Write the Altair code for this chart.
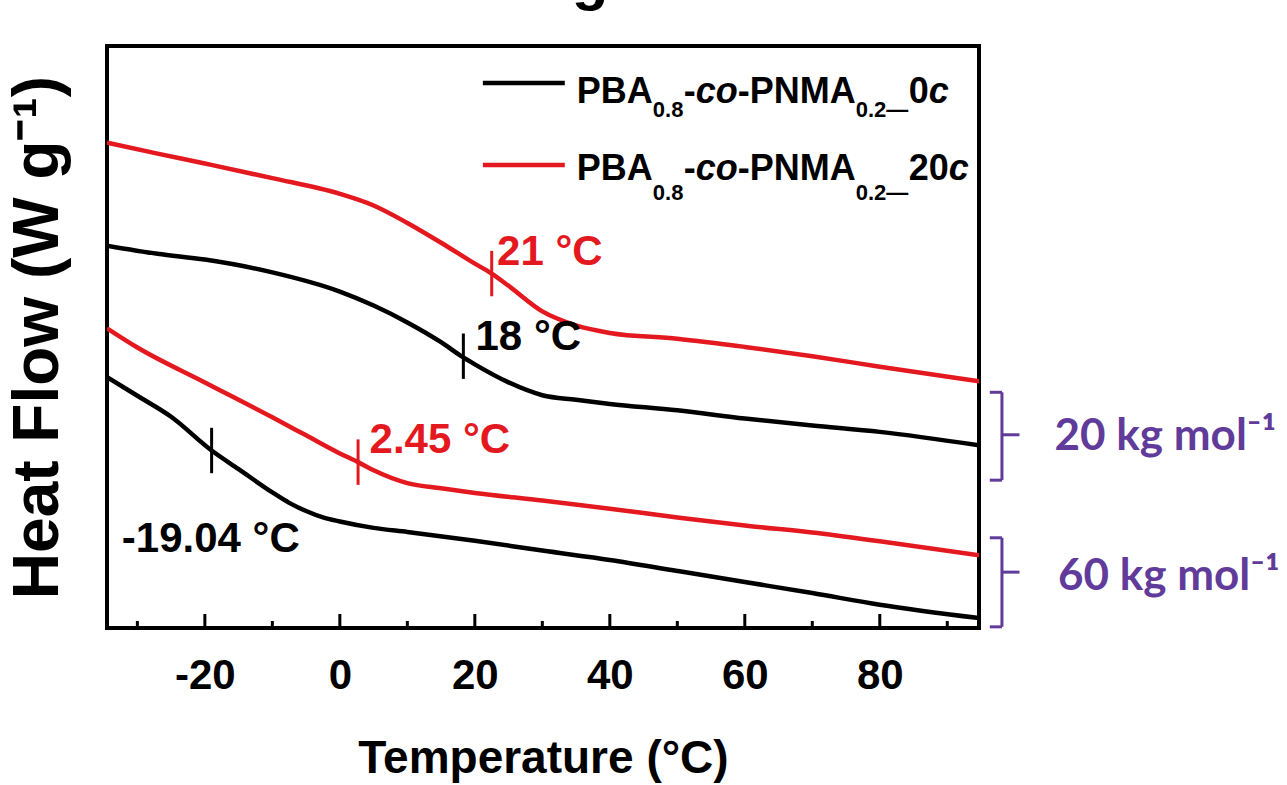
import altair as alt
import pandas as pd

FONT = "Liberation Sans"
RED = "#e3191f"
PURPLE = "#613b9a"

# ---- curves (Temperature in °C, heat flow in arbitrary offset units) ----
T_blk20 = [-34.5, -27, -20, -10, 0, 5, 10, 15, 18, 20, 25, 30, 35, 40, 50, 60, 70, 80, 94.7]
V_blk20 = [6.57, 6.43, 6.33, 6.11, 5.78, 5.54, 5.25, 4.91, 4.67, 4.53, 4.22, 4.00, 3.92, 3.85, 3.74, 3.60, 3.48, 3.37, 3.14]

T_red20 = [-34.5, -27, -20, -10, 0, 5, 10, 15, 20, 22.5, 25, 30, 35, 40, 50, 60, 70, 80, 94.7]
V_red20 = [8.34, 8.15, 7.98, 7.73, 7.46, 7.26, 6.96, 6.62, 6.26, 6.09, 5.88, 5.44, 5.20, 5.07, 4.97, 4.83, 4.67, 4.49, 4.24]

T_red60 = [-34.5, -30, -20, -10, -5, 0, 2.7, 5, 10, 15, 20, 30, 40, 50, 60, 70, 80, 94.7]
V_red60 = [5.15, 4.82, 4.22, 3.62, 3.31, 3.00, 2.85, 2.71, 2.49, 2.40, 2.32, 2.19, 2.05, 1.90, 1.76, 1.64, 1.49, 1.25]

T_blk60 = [-34.5, -30, -25, -19.0, -15, -10, -7.5, -5, -2.5, 0, 5, 10, 20, 30, 40, 50, 60, 70, 80, 94.7]
V_blk60 = [4.31, 3.99, 3.63, 3.05, 2.73, 2.33, 2.15, 2.01, 1.90, 1.83, 1.72, 1.65, 1.50, 1.33, 1.17, 0.98, 0.79, 0.60, 0.40, 0.17]

# Tg markers
tg_T = [22.5, 18.3, 2.7, -19.0]
tg_V = [6.09, 4.67, 2.85, 3.05]
tg_sample = ["20c", "0c", "20c", "0c"]
tg_half = 0.39

# Tg labels
lab_text = ["21 °C", "18 °C", "2.45 °C", "-19.04 °C"]
lab_T = [23.3, 20.1, 4.4, -32.3]
lab_V = [6.24, 4.77, 3.00, 1.30]
lab_sample = ["20c", "0c", "20c", "0c"]

# x axis ticks
major_ticks = [-20, 0, 20, 40, 60, 80]
minor_ticks = [-30, -10, 10, 30, 50, 70, 90]

# legend
leg_sample = ["0c", "20c"]
leg_line_T = [21.19, 33.33]
leg_line_V = [9.364, 7.955]
leg_main_V = [9.021, 7.698]
leg_sub_V = [8.780, 7.354]
leg_end = ["0", "20"]

# molecular weight braces and labels
mw_text = ["20 kg mol⁻¹", "60 kg mol⁻¹"]
mw_top = [4.05, 1.55]
mw_bot = [2.54, 0.02]
mw_mid = [3.32, 0.96]
mw_lab_T = [105.9, 106.4]
mw_lab_V = [3.06, 0.65]
brace_T = [96.3, 98.1, 100.7]

rows = []
for curve, sample, T, V in [("blk20", "0c", T_blk20, V_blk20), ("red20", "20c", T_red20, V_red20),
                            ("red60", "20c", T_red60, V_red60), ("blk60", "0c", T_blk60, V_blk60)]:
    for t, v in zip(T, V):
        rows.append(dict(curve=curve, sample=sample, T=t, v=v))
df = pd.DataFrame(rows)

xs = alt.Scale(domain=[-34.5, 94.7], nice=False, zero=False)
ys = alt.Scale(domain=[0, 10], nice=False, zero=False)
cs = alt.Scale(domain=["0c", "20c"], range=["#000000", RED])

x_axis = alt.Axis(values=major_ticks, ticks=False, domain=False, grid=False,
                  labelExpr="'' + datum.value",
                  labelFont=FONT, labelFontSize=42, labelFontWeight="bold", labelColor="black",
                  labelPadding=27, title="Temperature (°C)", titleFont=FONT, titleFontSize=46,
                  titleFontWeight="bold", titleColor="black", titlePadding=40)
y_axis = alt.Axis(labels=False, ticks=False, domain=False, grid=False,
                  title="Heat Flow (W g⁻¹)", titleFont=FONT, titleFontSize=64,
                  titleFontWeight="bold", titleColor="black", titlePadding=37)

X = lambda **k: alt.X("T:Q", scale=xs, **k)
Y = lambda **k: alt.Y("v:Q", scale=ys, **k)

lines = alt.Chart(df).mark_line(strokeWidth=4.5, clip=True, interpolate="monotone").encode(
    x=X(axis=x_axis),
    y=Y(axis=y_axis),
    color=alt.Color("sample:N", scale=cs, legend=None),
    detail="curve:N",
)

tg_df = pd.DataFrame(dict(T=tg_T, v=[v - tg_half for v in tg_V], v2=[v + tg_half for v in tg_V], sample=tg_sample))
tg_marks = alt.Chart(tg_df).mark_rule(strokeWidth=3).encode(
    x=X(), y=Y(), y2="v2:Q",
    color=alt.Color("sample:N", scale=cs, legend=None),
)

lab_df = pd.DataFrame(dict(T=lab_T, v=lab_V, text=lab_text, sample=lab_sample))
labels = alt.Chart(lab_df).mark_text(align="left", baseline="alphabetic", font=FONT, fontSize=42,
                                     fontWeight="bold").encode(
    x=X(), y=Y(), text="text:N",
    color=alt.Color("sample:N", scale=cs, legend=None),
)

maj = alt.Chart(pd.DataFrame(dict(T=major_ticks))).mark_rule(strokeWidth=3, color="black").encode(
    x=X(), y=alt.value(582), y2=alt.value(568))
mnr = alt.Chart(pd.DataFrame(dict(T=minor_ticks))).mark_rule(strokeWidth=3, color="black").encode(
    x=X(), y=alt.value(582), y2=alt.value(575))

# legend (manual, for subscripts / italics)
leg_lines = pd.DataFrame(dict(sample=leg_sample, T=[leg_line_T[0]] * 2, T2=[leg_line_T[1]] * 2, v=leg_line_V))
leg_rules = alt.Chart(leg_lines).mark_rule(strokeWidth=4.5).encode(
    x=X(), x2="T2:Q", y=Y(),
    color=alt.Color("sample:N", scale=cs, legend=None))

up_rows, sub_rows, it_rows = [], [], []
for i in range(2):
    up_rows += [dict(text="PBA", T=35.11, v=leg_main_V[i]),
                dict(text="-", T=50.96, v=leg_main_V[i]),
                dict(text="-PNMA", T=58.96, v=leg_main_V[i]),
                dict(text=leg_end[i], T=84.30, v=leg_main_V[i])]
    sub_rows += [dict(text="0.8", T=46.37, v=leg_sub_V[i]),
                 dict(text="0.2—", T=76.44, v=leg_sub_V[i])]
    it_rows += [dict(text="co", T=52.74, v=leg_main_V[i]),
                dict(text="c", T=87.26 if i == 0 else 90.22, v=leg_main_V[i])]

leg_text_up = alt.Chart(pd.DataFrame(up_rows)).mark_text(
    align="left", baseline="alphabetic", font=FONT, fontWeight="bold", fontSize=36, color="black"
).encode(x=X(), y=Y(), text="text:N")
leg_text_sub = alt.Chart(pd.DataFrame(sub_rows)).mark_text(
    align="left", baseline="alphabetic", font=FONT, fontWeight="bold", fontSize=22, color="black"
).encode(x=X(), y=Y(), text="text:N")
leg_text_it = alt.Chart(pd.DataFrame(it_rows)).mark_text(
    align="left", baseline="alphabetic", font=FONT, fontWeight="bold", fontStyle="italic",
    fontSize=36, color="black"
).encode(x=X(), y=Y(), text="text:N")

# braces
brows = []
for top, bot, mid in zip(mw_top, mw_bot, mw_mid):
    brows += [dict(T=brace_T[0], T2=brace_T[1], v=top, v2=top),
              dict(T=brace_T[1], T2=brace_T[1], v=top, v2=bot),
              dict(T=brace_T[0], T2=brace_T[1], v=bot, v2=bot),
              dict(T=brace_T[1], T2=brace_T[2], v=mid, v2=mid)]
braces = alt.Chart(pd.DataFrame(brows)).mark_rule(strokeWidth=3, color=PURPLE).encode(
    x=X(), x2="T2:Q", y=Y(), y2="v2:Q")

mw_df = pd.DataFrame(dict(T=mw_lab_T, v=mw_lab_V, text=mw_text))
mw_labels = alt.Chart(mw_df).mark_text(align="left", baseline="alphabetic", font="Lato", fontSize=44,
                                       fontWeight="bold", color=PURPLE).encode(
    x=X(), y=Y(), text="text:N")

g_top = alt.Chart(pd.DataFrame(dict(t=["g"]))).mark_text(align="center", baseline="alphabetic", font=FONT,
                                                        fontSize=60, fontWeight="bold", color="black").encode(
    x=alt.value(483), y=alt.value(-47), text="t:N")

chart = alt.layer(lines, tg_marks, labels, maj, mnr, leg_rules, leg_text_up, leg_text_sub, leg_text_it,
                  braces, mw_labels, g_top).properties(
    width=872, height=582,
    padding={"left": 107, "top": 46, "right": 308, "bottom": 157},
    autosize=alt.AutoSizeParams(type="none"),
    background="white",
).configure_view(stroke="black", strokeWidth=4)

chart.save("out.html", embed_options={"renderer": "svg", "actions": False})
